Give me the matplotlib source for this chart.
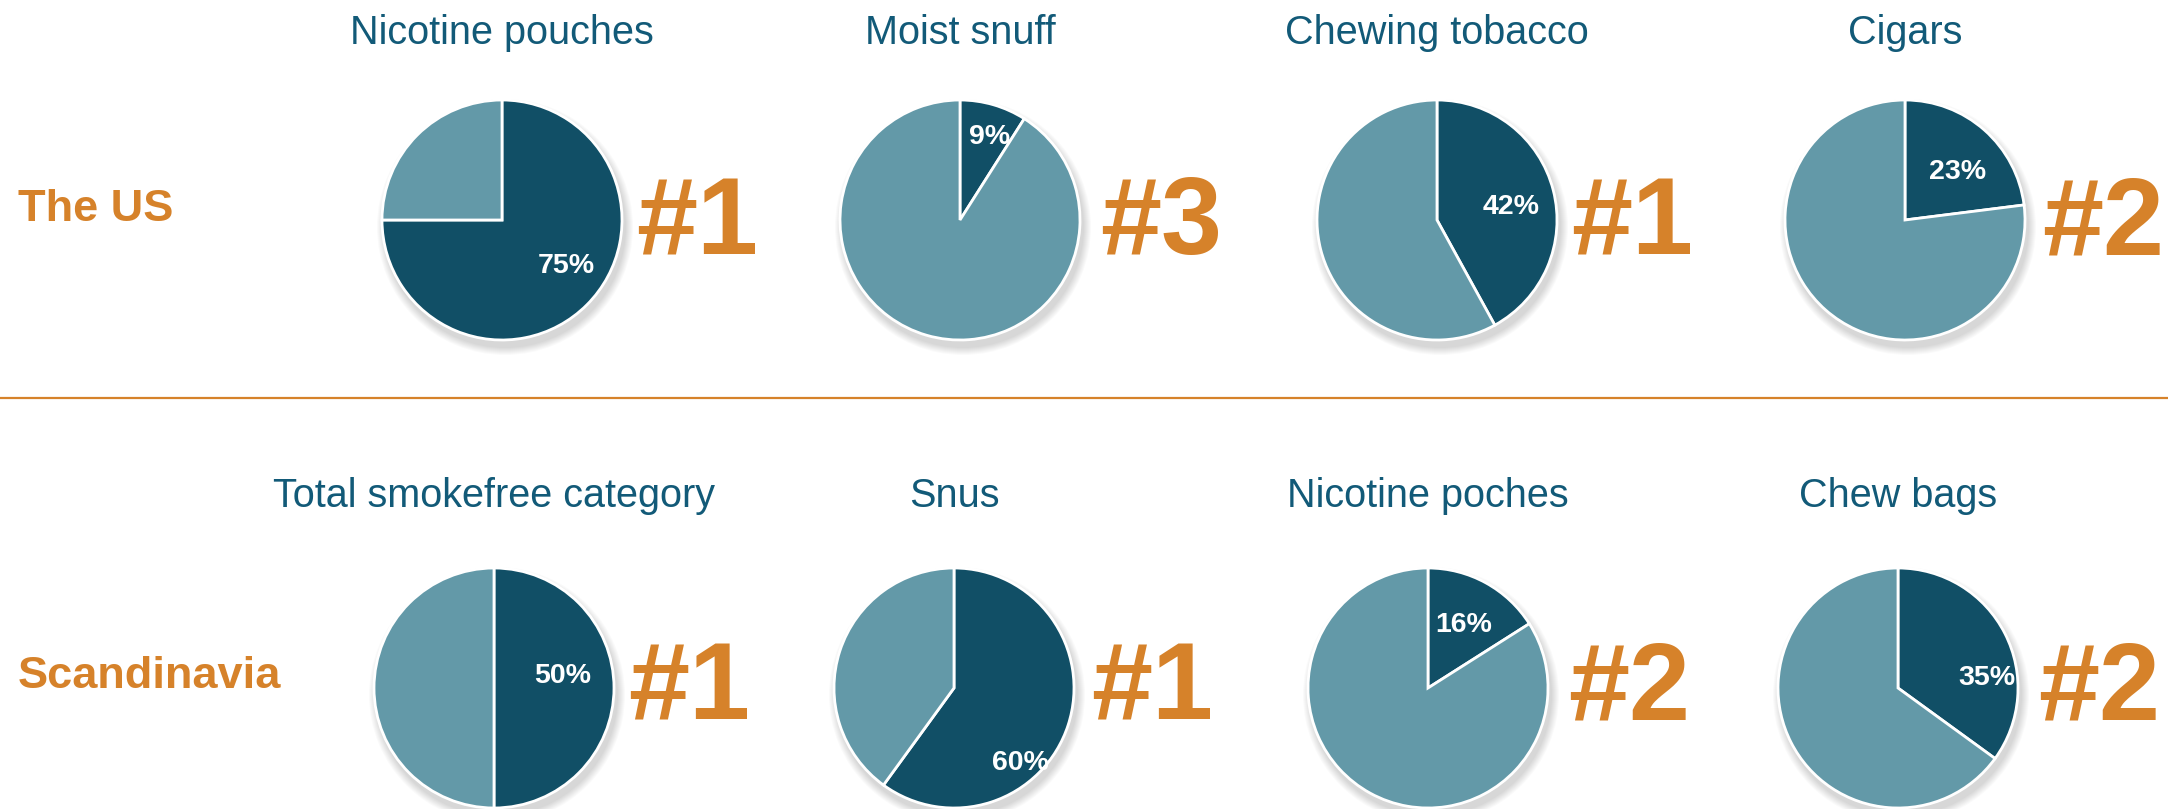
import matplotlib.pyplot as plt
from matplotlib.patches import Circle

plt.rcParams['font.family'] = ['Liberation Sans', 'DejaVu Sans']

# data
regions = ['The US', 'Scandinavia']
titles_us = ['Nicotine pouches', 'Moist snuff', 'Chewing tobacco', 'Cigars']
titles_sc = ['Total smokefree category', 'Snus', 'Nicotine poches', 'Chew bags']
share_us = [75, 9, 42, 23]
share_sc = [50, 60, 16, 35]
rank_us = ['#1', '#3', '#1', '#2']
rank_sc = ['#1', '#1', '#2', '#2']

DARK = '#114f66'
LIGHT = '#6399a8'
ORANGE = '#d6822a'
BLUE_TXT = '#125a78'

W, H = 2168, 809
fig = plt.figure(figsize=(W / 100, H / 100), dpi=100)
ax = fig.add_axes([0, 0, 1, 1])

# layout (pixels, y measured from top)
pie_x = [[502, 960, 1437, 1905], [494, 954, 1428, 1898]]
pie_y = [220, 688]
title_base = [44, 507]
region_base = [221, 688]
rank_x = [[697, 1161, 1632, 2103], [689, 1152, 1629, 2099]]
rank_base = [254, 719]
label_off = [[(64, 43), (30, -86), (74, -16), (53, -51)],
             [(69, -15), (66, 72), (36, -66), (89, -13)]]
R = 120

rows = [(titles_us, share_us, rank_us), (titles_sc, share_sc, rank_sc)]
for r, (titles, shares, ranks) in enumerate(rows):
    cy = H - pie_y[r]
    for i in range(4):
        cx = pie_x[r][i]
        # soft shadow
        for k in range(8):
            ax.add_patch(Circle((cx + 3, cy - 7), R + 8 - k, color='black',
                                alpha=0.018, lw=0, zorder=1))
        ax.pie([shares[i], 100 - shares[i]], colors=[DARK, LIGHT],
               startangle=90, counterclock=False, center=(cx, cy), radius=R,
               frame=True,
               wedgeprops=dict(edgecolor='white', linewidth=2, zorder=2))
        dx, dy = label_off[r][i]
        ax.text(cx + dx, cy - dy, f'{shares[i]}%', color='white', fontsize=20.5,
                fontweight='bold', ha='center', va='center_baseline', zorder=5)
        ax.text(cx, H - title_base[r], titles[i], color=BLUE_TXT, fontsize=28.5,
                ha='center', va='baseline')
        ax.text(rank_x[r][i], H - rank_base[r], ranks[i], color=ORANGE,
                fontsize=79, fontweight='bold', ha='center', va='baseline')
    ax.text(18, H - region_base[r], regions[r], color=ORANGE, fontsize=32.5,
            fontweight='bold', ha='left', va='baseline')

ax.axhline(H - 397.5, color=ORANGE, linewidth=1.6)

ax.set_xlim(0, W)
ax.set_ylim(0, H)
ax.set_aspect('equal')
ax.axis('off')

fig.savefig('out.png', dpi=100)
